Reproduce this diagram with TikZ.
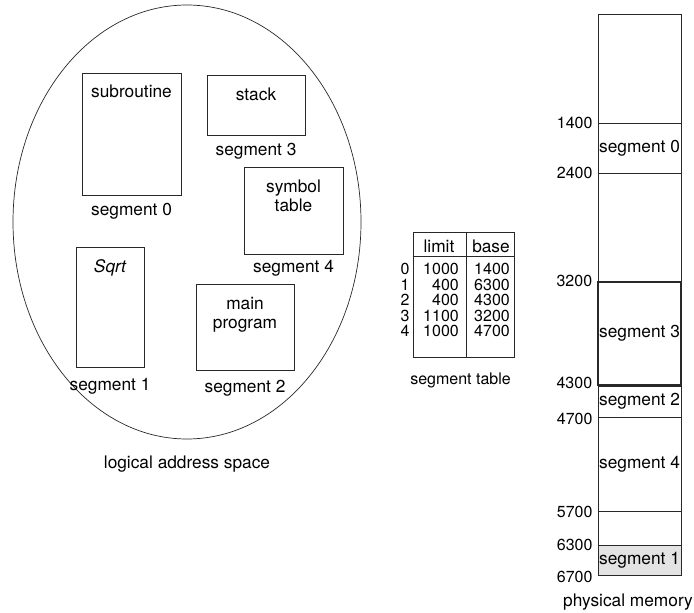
\documentclass[tikz,border=0pt]{standalone}
\usepackage{fontspec}
\setmainfont{TeX Gyre Heros}
\usetikzlibrary{positioning,shapes.geometric}
\definecolor{ink}{RGB}{40,40,40}
\tikzset{
  segbox/.style ={draw=ink, line width=0.7pt, inner sep=0pt},
  segtxt/.style ={font=\fontsize{17.3}{19.5}\selectfont, inner sep=0pt, align=center},
  seglbl/.style ={font=\fontsize{17.3}{19.5}\selectfont, inner sep=0pt},
  numtxt/.style ={font=\fontsize{16}{18}\selectfont, inner sep=0pt},
  memseg/.style ={draw=ink, line width=0.7pt, minimum width=83pt, inner sep=0pt,
                  font=\fontsize{17.3}{19.5}\selectfont},
}

\begin{document}
\begin{tikzpicture}[x=1pt,y=-1pt]
\useasboundingbox (0,0) rectangle (694,613);
% logical address space
\node[draw=ink, line width=0.7pt, ellipse, inner sep=0pt,
      minimum width=348pt, minimum height=434pt] (las) at (187,222) {};
\node[seglbl, below=16pt of las] (laslbl) {logical address space};

\node[segbox, minimum width=99pt, minimum height=122pt] (sub) at (131.5,134) {};
\node[segtxt, below=12.5pt of sub.north] (subtxt) {subroutine};
\node[seglbl, below=7.5pt of sub] (sublbl) {segment 0};

\node[segbox, minimum width=98pt, minimum height=60pt] (stk) at (256,105) {};
\node[segtxt, below=13pt of stk.north] (stktxt) {stack};
\node[seglbl, below=7.5pt of stk] (stklbl) {segment 3};

\node[segbox, minimum width=99pt, minimum height=87pt] (sym) at (293.5,210.5) {};
\node[segtxt, below=13pt of sym.north] (symtxt) {symbol\\table};
\node[seglbl, below=5.5pt of sym] (symlbl) {segment 4};

\node[segbox, minimum width=68pt, minimum height=120pt] (sqr) at (110,307) {};
\node[segtxt, below=13pt of sqr.north] (sqrtxt) {\itshape Sqrt};
\node[seglbl, below=10.5pt of sqr] (sqrlbl) {segment 1};

\node[segbox, minimum width=98pt, minimum height=86pt] (mainp) at (245,327) {};
\node[segtxt, below=13pt of mainp.north] (maintxt) {main\\program};
\node[seglbl, below=9.5pt of mainp] (mainlbl) {segment 2};

% segment table
\node[segbox, minimum width=101pt, minimum height=125pt] (segtab) at (463.5,294.5) {};
\draw[ink, line width=0.7pt] ([yshift=-25pt]segtab.north west) -- ([yshift=-25pt]segtab.north east);
\draw[ink, line width=0.7pt] ([xshift=54pt]segtab.north west) -- ([xshift=54pt]segtab.south west);
\node[seglbl] (hlim) at (439,246) {limit};
\node[seglbl] (hbas) at (491,246) {base};
\foreach \lim/\bas [count=\r from 0] in {1000/1400, 400/6300, 400/4300, 1100/3200, 1000/4700}{
  \node[numtxt] (row\r) at (405,269+15.5*\r) {\r};
  \node[numtxt, anchor=east] (lim\r) at (459,269+15.5*\r) {\lim};
  \node[numtxt] (bas\r) at (492,269+15.5*\r) {\bas};
}
\node[seglbl, font=\fontsize{16}{18}\selectfont, below=15pt of segtab, xshift=-3pt] (tablbl) {segment table};

% physical memory
\node[memseg, minimum height=561pt] (mem) at (639.5,294.5) {};
\node[memseg, minimum height=50pt] (m0) at (639.5,148) {segment 0};
\node[memseg, minimum height=103pt, line width=1.3pt] (m3) at (639.5,333.5) {segment 3};
\node[memseg, minimum height=31pt, below=0pt of m3] (m2) {segment 2};
\node[memseg, minimum height=94pt, below=0pt of m2] (m4) {segment 4};
\node[memseg, minimum height=30pt, fill=gray!22] (m1) at (639.5,560) {segment 1};
\node[numtxt, left=5pt of m0.north west] {1400};
\node[numtxt, left=5pt of m0.south west] {2400};
\node[numtxt, left=5pt of m3.north west] {3200};
\node[numtxt, left=5pt of m3.south west, yshift=3pt] {4300};
\node[numtxt, left=5pt of m2.south west, yshift=-2pt] {4700};
\node[numtxt, left=5pt of m4.south west] {5700};
\node[numtxt, left=5pt of m1.north west] {6300};
\node[numtxt, left=5pt of m1.south west, yshift=-2pt] {6700};
\node[seglbl, below=18pt of mem, xshift=-11.5pt] (memlbl) {physical memory};
\end{tikzpicture}
\end{document}
